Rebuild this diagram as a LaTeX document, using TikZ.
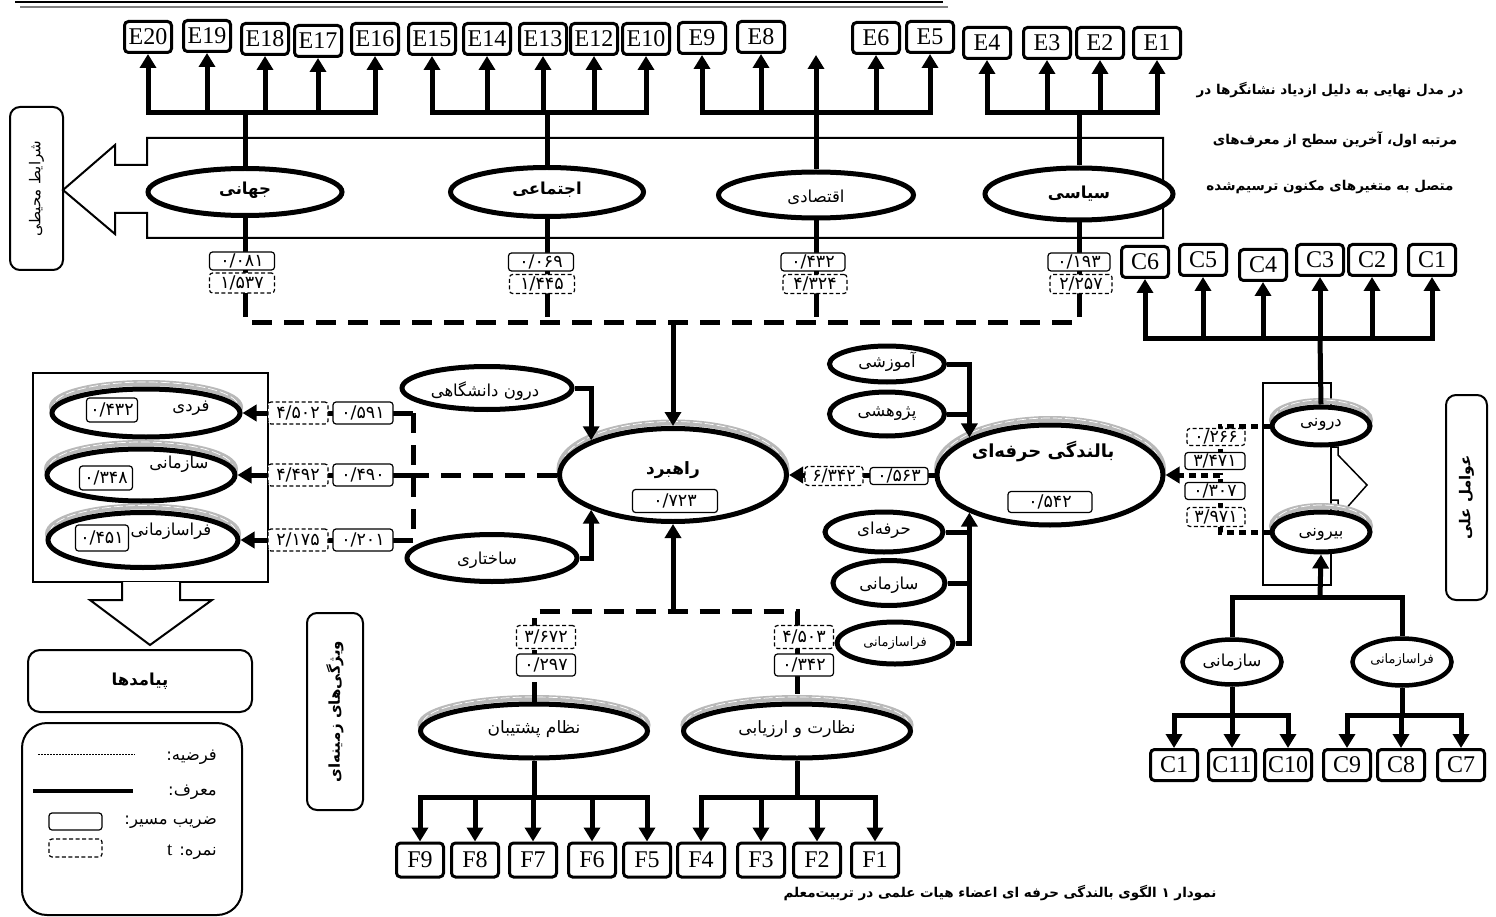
\documentclass[tikz,border=0pt]{standalone}
\usepackage{fontspec}
\setmainfont{Liberation Serif}
\newfontfamily\fa[Script=Arabic]{DejaVu Sans}
\TeXXeTstate=1
\usetikzlibrary{shapes.geometric,arrows.meta,calc}
\pgfdeclarelayer{back}
\pgfdeclarelayer{lines}
\pgfsetlayers{back,lines,main}
\newcommand\fatxt[1]{\beginR#1\endR}
\newcommand\shad[4]{%
 \draw[gray!55,line width=6pt] (#1,#2-6) ellipse [x radius=#3/2, y radius=#4/2];
 \draw[white,line width=0.7pt,dash pattern=on 9pt off 3pt] (#1,#2-7) ellipse [x radius=#3/2-2, y radius=#4/2];}
\tikzset{
 ebox/.style={draw,line width=3pt,rounded corners=4pt,fill=white,minimum width=47pt,minimum height=31pt,inner xsep=2pt,inner ysep=0pt,font=\fontsize{24}{24}\selectfont},
 lat/.style={ellipse,draw,line width=5pt,fill=white,inner sep=0pt},
 lab/.style={font=\fa\fontsize{16.5}{17}\selectfont,inner sep=0pt},
 labs/.style={font=\fa\fontsize{13}{14}\selectfont,inner sep=0pt},
 labb/.style={font=\fa\bfseries\fontsize{16.5}{17}\selectfont,inner sep=0pt},
 para/.style={font=\fa\bfseries\fontsize{13.5}{14}\selectfont,inner sep=0pt},
 cb/.style={draw,line width=1.2pt,rounded corners=3pt,fill=white,minimum width=60pt,minimum height=18pt,inner sep=0pt,text height=10.5pt,text depth=0pt,font=\fa\fontsize{17.5}{17.5}\selectfont},
 tb/.style={cb,dash pattern=on 4pt off 2.5pt},
 thk/.style={line width=5pt},
 arr/.style={-{Triangle[width=16pt,length=14pt]}},
 arr2/.style={{Triangle[width=16pt,length=14pt]}-{Triangle[width=16pt,length=14pt]}},
 dsh/.style={line width=5pt,dash pattern=on 20pt off 12pt},
 dotl/.style={line width=5pt,dash pattern=on 7pt off 5pt},
 note/.style={draw,line width=2pt,rounded corners=10pt,inner sep=0pt},
 side/.style={font=\fa\fontsize{15}{16}\selectfont,inner sep=0pt,rotate=90},
 sideb/.style={font=\fa\bfseries\fontsize{15}{16}\selectfont,inner sep=0pt,rotate=90},
}
\begin{document}
\begin{tikzpicture}[x=1pt,y=-1pt]
\useasboundingbox (0,0) rectangle (1496,917);

% ---------- E indicator boxes
\foreach \n/\x/\y in {E20/148/37,E19/207/36,E18/265/39,E17/318/41,E16/375/39,E15/432/39,E14/487/39,E13/543/39,E12/594/39,E10/646/39,E9/702/38,E8/761/37,E6/876/38,E5/930/37,E4/987/43,E3/1047/43,E2/1100/43,E1/1157/43}
  \node[ebox] (\n) at (\x,\y) {\n};

% ---------- environmental latent ellipses
\node[lat,minimum width=194pt,minimum height=47pt] (jah) at (245,192) {};
\node[labb] (jahL) at (245,190) {\fatxt{جهانی}};
\node[lat,minimum width=193pt,minimum height=49pt] (ejt) at (547,192) {};
\node[labb] (ejtL) at (547,190) {\fatxt{اجتماعی}};
\node[lat,minimum width=195pt,minimum height=46pt] (eqt) at (816,195) {};
\node[lab] (eqtL) at (816,197) {\fatxt{اقتصادی}};
\node[lat,minimum width=188pt,minimum height=52pt] (sia) at (1079,194) {};
\node[labb] (siaL) at (1079,194) {\fatxt{سیاسی}};

\node[cb,minimum width=65pt] (jahC) at (242,261) {۰/۰۸۱};
\node[tb,minimum width=65pt,minimum height=20pt] (jahT) at (242,283) {۱/۵۳۷};
\node[cb,minimum width=65pt] (ejtC) at (541,262) {۰/۰۶۹};
\node[tb,minimum width=65pt,minimum height=19pt] (ejtT) at (542,284) {۱/۴۴۵};
\node[cb,minimum width=64pt] (eqtC) at (813,262) {۰/۴۳۲};
\node[tb,minimum width=64pt,minimum height=19pt] (eqtT) at (815,284) {۴/۳۲۴};
\node[cb,minimum width=62pt] (siaC) at (1079,262) {۰/۱۹۳};
\node[tb,minimum width=62pt,minimum height=19pt] (siaT) at (1081,284) {۲/۲۵۷};

% ---------- side titles
\node[note,minimum width=53pt,minimum height=163pt] (envB) at (36.5,188.5) {};
\node[side] (envL) at (36.5,188.5) {\fatxt{شرایط محیطی}};
\node[note,minimum width=41pt,minimum height=205pt] (causB) at (1466.5,497.5) {};
\node[sideb] (causL) at (1466.5,497.5) {\fatxt{عوامل علی}};
\node[note,minimum width=56pt,minimum height=197pt] (ctxB) at (335,711.5) {};
\node[sideb] (ctxL) at (335,711.5) {\fatxt{ویژگی‌های زمینه‌ای}};

% ---------- note paragraph
\node[para] (p1) at (1330,90) {\fatxt{در مدل نهایی به دلیل ازدیاد نشانگرها در}};
\node[para] (p2) at (1335,140) {\fatxt{مرتبه اول، آخرین سطح از معرف‌های}};
\node[para] (p3) at (1330,187) {\fatxt{متصل به متغیرهای مکنون ترسیم‌شده}};

% ---------- C (top right)
\foreach \n/\x/\y in {C6/1145/262,C5/1203/260,C4/1263/265,C3/1320/260,C2/1372/260,C1/1432/260}
  \node[ebox] (\n) at (\x,\y) {\n};

\node[lat,minimum width=98pt,minimum height=38pt] (dar) at (1321,426) {};
\node[lab] (darL) at (1321,424) {\fatxt{درونی}};
\node[lat,minimum width=98pt,minimum height=40pt] (bir) at (1321,532) {};
\node[lab] (birL) at (1321,534) {\fatxt{بیرونی}};

\node[tb,minimum width=58pt,minimum height=17pt] (r1) at (1216,437) {۰/۲۶۶};
\node[cb,minimum width=60pt,minimum height=17pt] (r2) at (1215,461) {۳/۴۷۱};
\node[cb,minimum width=60pt,minimum height=17pt] (r3) at (1215,491) {۰/۳۰۷};
\node[tb,minimum width=58pt,minimum height=19pt] (r4) at (1216,517) {۳/۹۷۱};

% ---------- core ellipses
\node[lat,minimum width=226pt,minimum height=100pt] (bal) at (1050,475) {};
\node[labb,font=\fa\bfseries\fontsize{18}{18}\selectfont] (balL) at (1043,452) {\fatxt{بالندگی حرفه‌ای}};
\node[cb,minimum width=84pt,minimum height=21pt] (balC) at (1050,502) {۰/۵۴۲};

\node[lat,minimum width=227pt,minimum height=93pt] (rah) at (673,475) {};
\node[labb,font=\fa\bfseries\fontsize{17}{17}\selectfont] (rahL) at (673,470) {\fatxt{راهبرد}};
\node[cb,minimum width=85pt,minimum height=23pt] (rahC) at (675,501) {۰/۷۲۳};

\node[cb,minimum width=58pt,minimum height=17pt] (brC) at (899,476) {۰/۵۶۳};
\node[tb,minimum width=58pt,minimum height=19pt] (brT) at (834,476) {۶/۳۴۲};

% ---------- inputs to bal
\node[lat,minimum width=115pt,minimum height=36pt] (amz) at (887,364) {};
\node[lab] (amzL) at (887,362) {\fatxt{آموزشی}};
\node[lat,minimum width=115pt,minimum height=44pt] (pzh) at (887,414) {};
\node[lab] (pzhL) at (887,414) {\fatxt{پژوهشی}};
\node[lat,minimum width=118pt,minimum height=40pt] (hrf) at (884,532) {};
\node[lab] (hrfL) at (884,530) {\fatxt{حرفه‌ای}};
\node[lat,minimum width=112pt,minimum height=45pt] (szm) at (889,583) {};
\node[lab] (szmL) at (889,585) {\fatxt{سازمانی}};
\node[lat,minimum width=116pt,minimum height=42pt] (frs) at (895,643) {};
\node[labs] (frsL) at (895,643) {\fatxt{فراسازمانی}};

% ---------- inputs to rah
\node[lat,minimum width=170pt,minimum height=43pt] (dd) at (487,388) {};
\node[lab] (ddL) at (485,391) {\fatxt{درون دانشگاهی}};
\node[lat,minimum width=170pt,minimum height=47pt] (sx) at (492,558) {};
\node[lab] (sxL) at (487,560) {\fatxt{ساختاری}};

% ---------- outcomes
\node[lat,minimum width=188pt,minimum height=48pt] (fardi) at (146,413) {};
\node[lab] (fardiL) at (191,408) {\fatxt{فردی}};
\node[cb,minimum width=51pt,minimum height=24pt] (fardiC) at (112,410) {۰/۴۳۲};
\node[lat,minimum width=188pt,minimum height=52pt] (saz) at (141,475) {};
\node[lab] (sazL) at (179,464) {\fatxt{سازمانی}};
\node[cb,minimum width=53pt,minimum height=24pt] (sazC) at (106,478) {۰/۳۴۸};
\node[lat,minimum width=190pt,minimum height=55pt] (fara) at (143,540) {};
\node[lab] (faraL) at (171,531) {\fatxt{فراسازمانی}};
\node[cb,minimum width=53pt,minimum height=26pt] (faraC) at (102,538) {۰/۴۵۱};

\node[tb,minimum height=22pt] (o1T) at (298,413) {۴/۵۰۲};
\node[cb,minimum height=22pt] (o1C) at (363,413) {۰/۵۹۱};
\node[tb,minimum height=22pt] (o2T) at (298,475) {۴/۴۹۲};
\node[cb,minimum height=22pt] (o2C) at (363,475) {۰/۴۹۰};
\node[tb,minimum height=22pt] (o3T) at (298,540) {۲/۱۷۵};
\node[cb,minimum height=22pt] (o3C) at (363,540) {۰/۲۰۱};

\node[note,rounded corners=12pt,minimum width=224pt,minimum height=62pt] (outB) at (140,681) {};
\node[labb] (outL) at (140,681) {\fatxt{پیامدها}};

% ---------- legend
\node[note,rounded corners=25pt,minimum width=220pt,minimum height=192pt] (legB) at (132,819) {};
\node[lab,anchor=east] (lg1) at (217,757) {\fatxt{فرضیه:}};
\node[lab,anchor=east] (lg2) at (217,792) {\fatxt{معرف:}};
\node[lab,anchor=east] (lg3) at (217,822) {\fatxt{ضریب مسیر:}};
\node[lab,anchor=east] (lg4) at (217,852) {\fatxt{نمره: {\rmfamily\fontsize{19}{19}\selectfont t}}};
\node[cb,minimum width=53pt,minimum height=17pt] (lgC) at (75.5,821.5) {};
\node[tb,minimum width=53pt,minimum height=18pt] (lgT) at (75.5,848) {};

% ---------- contextual
\node[tb,minimum width=59pt,minimum height=23pt] (nezT) at (546,637) {۳/۶۷۲};
\node[cb,minimum width=59pt,minimum height=22pt] (nezC) at (546,665) {۰/۲۹۷};
\node[tb,minimum width=59pt,minimum height=23pt] (nzrT) at (804,637) {۴/۵۰۳};
\node[cb,minimum width=59pt,minimum height=22pt] (nzrC) at (804,665) {۰/۳۴۲};
\node[lat,minimum width=227pt,minimum height=54pt] (nez) at (534,731) {};
\node[lab,font=\fa\fontsize{17}{17}\selectfont] (nezL) at (534,729) {\fatxt{نظام پشتیبان}};
\node[lat,minimum width=227pt,minimum height=54pt] (nzr) at (797,731) {};
\node[lab,font=\fa\fontsize{17}{17}\selectfont] (nzrL) at (797,729) {\fatxt{نظارت و ارزیابی}};

\foreach \n/\x in {F9/420,F8/475,F7/533,F6/592,F5/647,F4/701,F3/761,F2/817,F1/875}
  \node[ebox,minimum height=34pt] (\n) at (\x,860) {\n};

% ---------- bottom right
\node[lat,line width=4.5pt,minimum width=99pt,minimum height=45pt] (bs) at (1232,662) {};
\node[lab] (bsL) at (1232,662) {\fatxt{سازمانی}};
\node[lat,line width=4.5pt,minimum width=99pt,minimum height=47pt] (bf) at (1402,662) {};
\node[labs] (bfL) at (1402,660) {\fatxt{فراسازمانی}};
\foreach \n/\t/\x in {C1b/C1/1174,C11/C11/1232,C10/C10/1288,C9/C9/1347,C8/C8/1401,C7/C7/1461}
  \node[ebox] (\n) at (\x,765) {\t};

% ---------- caption
\node[para] (cap) at (1000,893) {\fatxt{نمودار ۱ الگوی بالندگی حرفه ای اعضاء هیات علمی در تربیت‌معلم}};

% =============== background shapes
\begin{pgfonlayer}{back}
\draw[line width=2.5pt] (15,2) -- (943,2);
\draw[gray,line width=2pt] (20,7) -- (948,7);
\draw[line width=2pt] (1163,138) -- (147,138) -- (147,165) -- (115,165) -- (115,145) -- (63,190) -- (115,234) -- (115,213) -- (147,213) -- (147,238) -- (1163,238) -- cycle;
\draw[line width=2pt] (33,373) rectangle (268,582);
\draw[line width=2pt,fill=white] (122,582) -- (122,600) -- (90,600) -- (150,645) -- (212,600) -- (180,600) -- (180,582);
\draw[line width=1.5pt] (1263,383) rectangle (1331,585);
\draw[line width=1.5pt,fill=white] (1331,447) -- (1338,447) -- (1338,455) -- (1367,485) -- (1343,512) -- (1338,512) -- (1338,500) -- (1331,500) -- cycle;
\shad{146}{413}{188}{48}
\shad{141}{475}{188}{52}
\shad{143}{540}{190}{55}
\shad{673}{475}{227}{93}
\shad{1050}{475}{226}{100}
\shad{1321}{426}{98}{38}
\shad{1321}{532}{98}{40}
\shad{534}{731}{227}{54}
\shad{797}{731}{227}{54}
\end{pgfonlayer}

% =============== connectors
\begin{pgfonlayer}{lines}
\coordinate (cy) at (0,113);
% jahani
\draw[thk] (jah.north) -- (jah.north |- cy);
\draw[thk,arr2] (E20.south) -- (E20.south |- cy) -- (E16.south |- cy) -- (E16.south);
\foreach \n in {E19,E18,E17} \draw[thk,arr] (\n.south |- cy) -- (\n.south);
% ejtemai
\draw[thk] (ejt.north) -- (ejt.north |- cy);
\draw[thk,arr2] (E15.south) -- (E15.south |- cy) -- (E10.south |- cy) -- (E10.south);
\foreach \n in {E14,E13,E12} \draw[thk,arr] (\n.south |- cy) -- (\n.south);
% eqtesadi
\coordinate (e7) at (816,55);
\draw[thk,arr] (eqt.north) -- (e7);
\draw[thk,arr2] (E9.south) -- (E9.south |- cy) -- (E5.south |- cy) -- (E5.south);
\foreach \n in {E8,E6} \draw[thk,arr] (\n.south |- cy) -- (\n.south);
% siasi
\draw[thk] (sia.north) -- (sia.north |- cy);
\draw[thk,arr2] (E4.south) -- (E4.south |- cy) -- (E1.south |- cy) -- (E1.south);
\foreach \n in {E3,E2} \draw[thk,arr] (\n.south |- cy) -- (\n.south);
% down to rah
\coordinate (lv) at (0,297);
\coordinate (dl) at (673,322);
\foreach \e in {jah,ejt,eqt,sia} \draw[thk] (\e.south) -- (\e.south |- lv);
\draw[dsh] (jah.south |- lv) -- (jah.south |- dl) -- (sia.south |- dl) -- (sia.south |- lv);
\draw[dsh] (ejt.south |- lv) -- (ejt.south |- dl);
\draw[dsh] (eqt.south |- lv) -- (eqt.south |- dl);
\draw[thk,arr] (dl) -- (rah.north);
% C top
\coordinate (ccy) at (0,338);
\draw[thk,arr2] (C6.south) -- (C6.south |- ccy) -- (C1.south |- ccy) -- (C1.south);
\foreach \n in {C5,C4,C3,C2} \draw[thk,arr] (\n.south |- ccy) -- (\n.south);
\draw[thk] (C3.south |- ccy) -- (dar.north);
% dotted to bal
\coordinate (rj) at (1220,475);
\draw[dotl] (dar.west) -- (dar.west -| rj) -- (rj);
\draw[dotl] (bir.west) -- (bir.west -| rj) -- (rj);
\draw[dotl,arr] (rj) -- (bal.east);
% bal -> rah
\draw[thk,arr] (bal.west) -- (rah.east);
% inputs to bal
\draw[thk,arr] (amz.east) -| (bal.155);
\draw[thk] (pzh.east) -- (pzh.east -| bal.155);
\draw[thk,arr] (frs.east) -| (bal.205);
\draw[thk] (hrf.east) -- (hrf.east -| bal.205);
\draw[thk] (szm.east) -- (szm.east -| bal.205);
% inputs to rah
\draw[thk,arr] (dd.east) -| (rah.157);
\draw[thk,arr] (sx.east) -| (rah.203);
% rah -> outcomes
\coordinate (lj) at (413,475);
\draw[thk,arr] (fardi.east -| lj) -- (fardi.east);
\draw[thk,arr] (lj) -- (saz.east);
\draw[thk,arr] (fara.east -| lj) -- (fara.east);
\draw[dsh] (fardi.east -| lj) -- (fara.east -| lj);
\draw[dsh] (rah.west) -- (lj);
% contextual -> rah
\coordinate (bl) at (673,611);
\draw[dsh] (nez.north) -- (nez.north |- bl) -- (nzr.north |- bl) -- (nzr.north);
\draw[thk,arr] (bl) -- (rah.south);
% F combs
\coordinate (fcy) at (0,797);
\draw[thk] (nez.south) -- (nez.south |- fcy);
\draw[thk,arr2] (F9.north) -- (F9.north |- fcy) -- (F5.north |- fcy) -- (F5.north);
\foreach \n in {F8,F7,F6} \draw[thk,arr] (\n.north |- fcy) -- (\n.north);
\draw[thk] (nzr.south) -- (nzr.south |- fcy);
\draw[thk,arr2] (F4.north) -- (F4.north |- fcy) -- (F1.north |- fcy) -- (F1.north);
\foreach \n in {F3,F2} \draw[thk,arr] (\n.north |- fcy) -- (\n.north);
% bottom right
\coordinate (brc) at (1320,597);
\draw[thk,arr] (brc) -- (bir.south);
\draw[thk] (bs.north) -- (bs.north |- brc) -- (bf.north |- brc) -- (bf.north);
\coordinate (bcy) at (0,715);
\draw[thk] (bs.south) -- (bs.south |- bcy);
\draw[thk,arr2] (C1b.north) -- (C1b.north |- bcy) -- (C10.north |- bcy) -- (C10.north);
\draw[thk,arr] (C11.north |- bcy) -- (C11.north);
\draw[thk] (bf.south) -- (bf.south |- bcy);
\draw[thk,arr2] (C9.north) -- (C9.north |- bcy) -- (C7.north |- bcy) -- (C7.north);
\draw[thk,arr] (C8.north |- bcy) -- (C8.north);
% legend lines
\draw[line width=0.8pt,dash pattern=on 2pt off 1pt] (38,754) -- (135,754);
\draw[line width=4pt] (33,791) -- (133,791);
\end{pgfonlayer}
\end{tikzpicture}
\end{document}
